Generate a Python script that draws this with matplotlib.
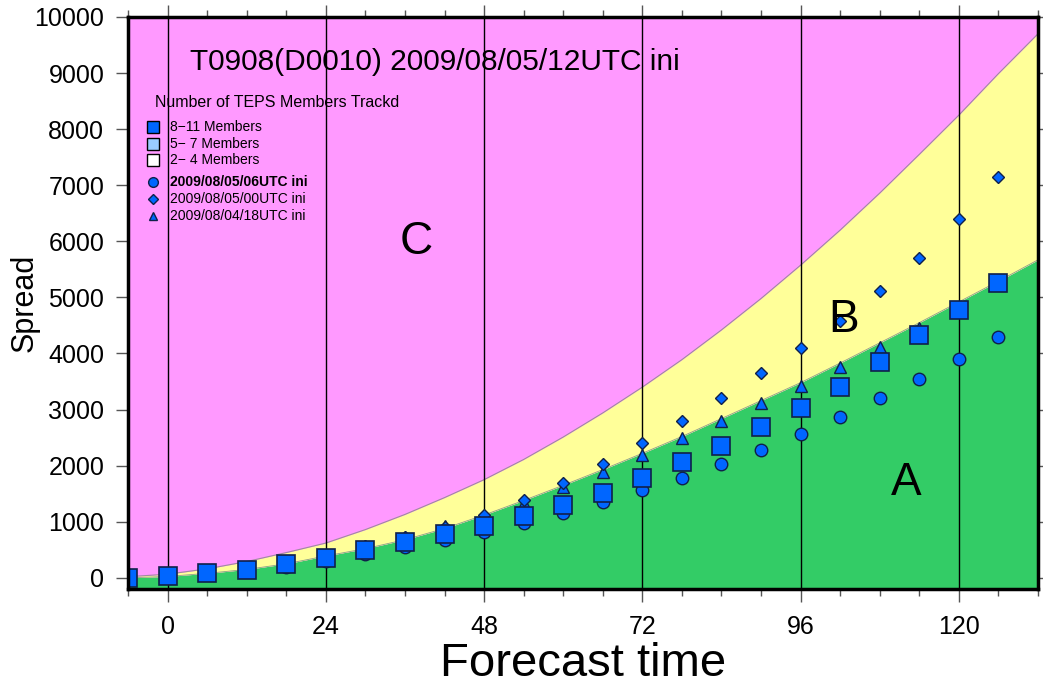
import matplotlib
matplotlib.use("Agg")
import matplotlib.pyplot as plt
from matplotlib.lines import Line2D
from matplotlib.ticker import MultipleLocator

plt.rcParams['font.family'] = ['Liberation Sans', 'DejaVu Sans']

# ---------------- data ----------------
hours = [-6, 0, 6, 12, 18, 24, 30, 36, 42, 48, 54, 60, 66, 72, 78, 84, 90, 96,
         102, 108, 114, 120, 126]

# current run (8-11 members)
spread_12utc = [0, 25, 85, 140, 240, 350, 490, 630, 780, 930, 1105, 1300, 1515,
                1780, 2070, 2350, 2690, 3030, 3405, 3850, 4330, 4780, 5260]
# 2009/08/05/06UTC ini
spread_06utc = [0, 20, 75, 130, 200, 300, 430, 545, 680, 815, 975, 1160, 1355,
                1570, 1780, 2030, 2280, 2570, 2870, 3210, 3550, 3900, 4300]
# 2009/08/05/00UTC ini
spread_00utc = [0, 25, 85, 140, 240, 400, 560, 720, 900, 1120, 1390, 1690, 2030,
                2400, 2800, 3210, 3650, 4100, 4580, 5110, 5710, 6400, 7140]
# 2009/08/04/18UTC ini (visible up to 114h)
hours_18utc = hours[:21]
spread_18utc = [0, 25, 85, 140, 240, 410, 570, 735, 925, 1080, 1330, 1620, 1890,
                2190, 2500, 2800, 3120, 3420, 3760, 4120, 4460]

# region boundaries
bound_hours = [-6, 0, 6, 12, 18, 24, 30, 36, 42, 48, 54, 60, 66, 72, 78, 84, 90,
               96, 102, 108, 114, 120, 126, 132]
bound_ab = [0, 25, 80, 150, 250, 390, 520, 680, 880, 1120, 1380, 1650, 1930,
            2220, 2520, 2840, 3160, 3480, 3830, 4190, 4550, 4920, 5290, 5670]
bound_bc = [20, 65, 160, 290, 450, 620, 860, 1130, 1430, 1750, 2110, 2510, 2940,
            3400, 3890, 4420, 4980, 5575, 6200, 6860, 7550, 8250, 8990, 9700]

x_major = [0, 24, 48, 72, 96, 120]
region_labels = ['A', 'B', 'C']
region_pos_h = [112, 102.5, 37.7]
region_pos_v = [1690, 4600, 5990]

title_text = 'T0908(D0010) 2009/08/05/12UTC ini'
legend_title = 'Number of TEPS Members Trackd'
member_labels = ['8\u221211 Members', '5\u2212 7 Members', '2\u2212 4 Members']
member_colors = ['#0066ff', '#99ccff', '#ffffff']
run_labels = ['2009/08/05/06UTC ini', '2009/08/05/00UTC ini', '2009/08/04/18UTC ini']

# ---------------- style ----------------
PINK = '#ff99ff'
YELLOW = '#ffff99'
GREEN = '#33cc66'
BLUE = '#0066ff'
EDGE = '#10204a'

fig = plt.figure(figsize=(10.43, 6.93), dpi=100)
ax = fig.add_axes([0.1227, 0.150, 0.8725, 0.8255])
ax.set_facecolor(PINK)

ax.set_xlim(-6, 132)
ax.set_ylim(-200, 10000)

ax.fill_between(bound_hours, -200, bound_ab, color=GREEN, lw=0, zorder=1)
ax.fill_between(bound_hours, bound_ab, bound_bc, color=YELLOW, lw=0, zorder=1)
ax.plot(bound_hours, bound_bc, color='#a08aa0', lw=0.8, zorder=1.5)
ax.plot(bound_hours, bound_ab, color='#8aa08a', lw=0.6, zorder=1.5)

for xv in x_major:
    ax.axvline(xv, color='black', lw=1.0, zorder=2)

ax.plot(hours, spread_06utc, 'o', ms=9, mfc=BLUE, mec=EDGE, mew=1, ls='none', zorder=3)
ax.plot(hours_18utc, spread_18utc, '^', ms=8, mfc=BLUE, mec=EDGE, mew=1, ls='none', zorder=3.2)
ax.plot(hours, spread_00utc, 'D', ms=6.5, mfc=BLUE, mec=EDGE, mew=1, ls='none', zorder=3.4)
ax.plot(hours, spread_12utc, 's', ms=13, mfc=BLUE, mec=EDGE, mew=1.2, ls='none', zorder=4,
        clip_on=True)

for lab, hx, vy in zip(region_labels, region_pos_h, region_pos_v):
    ax.text(hx, vy, lab, fontsize=33, ha='center', va='center', color='black', zorder=5)

ax.text(0.068, 0.921, title_text, transform=ax.transAxes, fontsize=21.5,
        ha='left', va='center', zorder=1.8)

# legend (manual)
ax.text(0.0297, 0.85, legend_title, transform=ax.transAxes, fontsize=11.5,
        ha='left', va='center', zorder=6)
rows_y = [0.8077, 0.778, 0.75]
for lab, col, yy in zip(member_labels, member_colors, rows_y):
    ax.add_line(Line2D([0.0275], [yy], transform=ax.transAxes, marker='s', ms=9,
                       mfc=col, mec='black', mew=1, ls='none', zorder=6))
    ax.text(0.046, yy, lab, transform=ax.transAxes, fontsize=10, ha='left',
            va='center', zorder=6)
run_y = [0.7115, 0.682, 0.652]
run_markers = [('o', 7), ('D', 5.5), ('^', 6)]
for lab, (mk, ms), yy, wt in zip(run_labels, run_markers, run_y, ['bold', 'normal', 'normal']):
    ax.add_line(Line2D([0.0275], [yy], transform=ax.transAxes, marker=mk, ms=ms,
                       mfc=BLUE, mec=EDGE, mew=1, ls='none', zorder=6))
    ax.text(0.046, yy, lab, transform=ax.transAxes, fontsize=10, ha='left',
            va='center', zorder=6, fontweight=wt)

# axes / ticks
ax.xaxis.set_minor_locator(MultipleLocator(6))
ax.yaxis.set_major_locator(MultipleLocator(1000))
ax.set_xticks(x_major)
ax.tick_params(axis='both', which='major', direction='out', length=9, width=1,
               color='#555555', labelsize=18, top=True, right=True)
ax.tick_params(axis='x', which='major', pad=10)
ax.tick_params(axis='y', which='major', pad=8)
ax.tick_params(axis='x', which='minor', direction='out', length=5, width=1,
               color='#555555', top=True)
for side in ['left', 'bottom', 'top', 'right']:
    ax.spines[side].set_linewidth(2.5)
    ax.spines[side].set_color('black')
    ax.spines[side].set_zorder(10)

ax.set_xlabel('Forecast time', fontsize=34, labelpad=2)
ax.set_ylabel('Spread', fontsize=22)
ax.yaxis.set_label_coords(-0.097, 0.5)

fig.savefig('out.png', dpi=100)
